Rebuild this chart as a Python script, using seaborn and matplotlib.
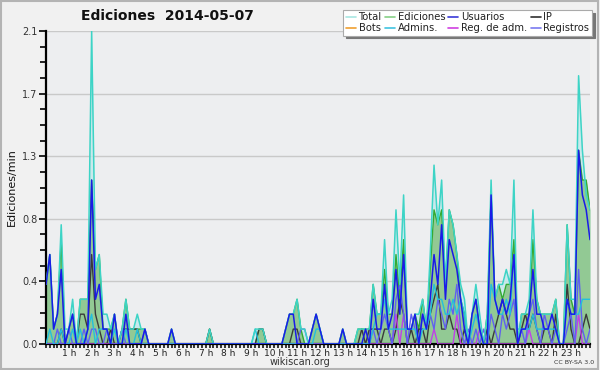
import numpy as np
import pandas as pd
import matplotlib
matplotlib.use("Agg")
import matplotlib.pyplot as plt
import seaborn as sns
from matplotlib.lines import Line2D
from matplotlib.patches import Rectangle

# ==========================================
# DATA (edits per minute, 10-minute bins, one row per hour)
# ==========================================

total = [
    0.4, 0.6, 0.1, 0.2, 0.8, 0.1,
    0.1, 0.3, 0.0, 0.3, 0.3, 0.3,
    2.1, 0.5, 0.6, 0.2, 0.2, 0.1,
    0.2, 0.0, 0.1, 0.3, 0.1, 0.1,
    0.2, 0.1, 0.1, 0.0, 0.0, 0.0,
    0.0, 0.0, 0.0, 0.1, 0.0, 0.0,
    0.0, 0.0, 0.0, 0.0, 0.0, 0.0,
    0.0, 0.1, 0.0, 0.0, 0.0, 0.0,
    0.0, 0.0, 0.0, 0.0, 0.0, 0.0,
    0.0, 0.1, 0.1, 0.1, 0.0, 0.0,
    0.0, 0.0, 0.0, 0.1, 0.2, 0.2,
    0.3, 0.1, 0.1, 0.0, 0.1, 0.2,
    0.1, 0.0, 0.0, 0.0, 0.0, 0.0,
    0.1, 0.0, 0.0, 0.0, 0.1, 0.1,
    0.1, 0.1, 0.4, 0.2, 0.2, 0.7,
    0.2, 0.3, 0.9, 0.4, 1.0, 0.1,
    0.1, 0.2, 0.2, 0.3, 0.1, 0.6,
    1.2, 0.8, 1.1, 0.4, 0.9, 0.8,
    0.6, 0.4, 0.3, 0.0, 0.2, 0.4,
    0.2, 0.0, 0.2, 1.1, 0.3, 0.4,
    0.4, 0.5, 0.4, 1.1, 0.0, 0.2,
    0.2, 0.3, 0.9, 0.3, 0.2, 0.2,
    0.2, 0.2, 0.3, 0.0, 0.0, 0.8,
    0.3, 0.3, 1.8, 1.3, 1.0, 0.9,
]

ediciones = [
    0.4, 0.6, 0.1, 0.2, 0.7, 0.0,
    0.1, 0.2, 0.0, 0.3, 0.3, 0.3,
    1.1, 0.5, 0.6, 0.1, 0.1, 0.1,
    0.2, 0.0, 0.1, 0.3, 0.1, 0.1,
    0.1, 0.1, 0.1, 0.0, 0.0, 0.0,
    0.0, 0.0, 0.0, 0.1, 0.0, 0.0,
    0.0, 0.0, 0.0, 0.0, 0.0, 0.0,
    0.0, 0.1, 0.0, 0.0, 0.0, 0.0,
    0.0, 0.0, 0.0, 0.0, 0.0, 0.0,
    0.0, 0.0, 0.1, 0.1, 0.0, 0.0,
    0.0, 0.0, 0.0, 0.1, 0.2, 0.2,
    0.3, 0.1, 0.0, 0.0, 0.1, 0.2,
    0.1, 0.0, 0.0, 0.0, 0.0, 0.0,
    0.1, 0.0, 0.0, 0.0, 0.1, 0.1,
    0.1, 0.1, 0.4, 0.2, 0.2, 0.5,
    0.2, 0.2, 0.6, 0.3, 0.7, 0.1,
    0.1, 0.2, 0.1, 0.3, 0.1, 0.5,
    0.9, 0.8, 0.9, 0.4, 0.9, 0.8,
    0.6, 0.3, 0.2, 0.0, 0.2, 0.3,
    0.1, 0.0, 0.2, 1.0, 0.3, 0.4,
    0.3, 0.4, 0.4, 0.7, 0.0, 0.2,
    0.2, 0.2, 0.7, 0.3, 0.2, 0.2,
    0.2, 0.2, 0.3, 0.0, 0.0, 0.8,
    0.3, 0.2, 1.3, 1.1, 1.1, 0.9,
]

usuarios = [
    0.4, 0.6, 0.1, 0.2, 0.5, 0.0,
    0.1, 0.2, 0.0, 0.0, 0.0, 0.1,
    1.1, 0.3, 0.4, 0.1, 0.1, 0.0,
    0.2, 0.0, 0.0, 0.2, 0.0, 0.0,
    0.0, 0.0, 0.1, 0.0, 0.0, 0.0,
    0.0, 0.0, 0.0, 0.1, 0.0, 0.0,
    0.0, 0.0, 0.0, 0.0, 0.0, 0.0,
    0.0, 0.0, 0.0, 0.0, 0.0, 0.0,
    0.0, 0.0, 0.0, 0.0, 0.0, 0.0,
    0.0, 0.0, 0.0, 0.0, 0.0, 0.0,
    0.0, 0.0, 0.0, 0.1, 0.2, 0.2,
    0.0, 0.0, 0.0, 0.0, 0.1, 0.2,
    0.1, 0.0, 0.0, 0.0, 0.0, 0.0,
    0.1, 0.0, 0.0, 0.0, 0.0, 0.0,
    0.1, 0.0, 0.3, 0.1, 0.1, 0.4,
    0.1, 0.2, 0.5, 0.2, 0.6, 0.1,
    0.1, 0.2, 0.0, 0.2, 0.1, 0.3,
    0.6, 0.4, 0.8, 0.3, 0.7, 0.6,
    0.5, 0.3, 0.1, 0.0, 0.2, 0.3,
    0.1, 0.0, 0.0, 1.0, 0.3, 0.2,
    0.3, 0.2, 0.3, 0.6, 0.0, 0.1,
    0.1, 0.2, 0.5, 0.2, 0.2, 0.1,
    0.1, 0.2, 0.1, 0.0, 0.0, 0.3,
    0.2, 0.2, 1.3, 1.0, 0.9, 0.7,
]

ip = [
    0.0, 0.0, 0.0, 0.0, 0.1, 0.0,
    0.0, 0.0, 0.0, 0.2, 0.2, 0.1,
    0.6, 0.2, 0.1, 0.0, 0.0, 0.1,
    0.0, 0.0, 0.1, 0.1, 0.1, 0.1,
    0.1, 0.0, 0.0, 0.0, 0.0, 0.0,
    0.0, 0.0, 0.0, 0.0, 0.0, 0.0,
    0.0, 0.0, 0.0, 0.0, 0.0, 0.0,
    0.0, 0.1, 0.0, 0.0, 0.0, 0.0,
    0.0, 0.0, 0.0, 0.0, 0.0, 0.0,
    0.0, 0.0, 0.1, 0.1, 0.0, 0.0,
    0.0, 0.0, 0.0, 0.0, 0.0, 0.1,
    0.1, 0.0, 0.0, 0.0, 0.0, 0.0,
    0.0, 0.0, 0.0, 0.0, 0.0, 0.0,
    0.0, 0.0, 0.0, 0.0, 0.0, 0.1,
    0.0, 0.1, 0.1, 0.1, 0.0, 0.1,
    0.1, 0.0, 0.1, 0.3, 0.2, 0.0,
    0.1, 0.0, 0.1, 0.1, 0.0, 0.2,
    0.3, 0.4, 0.1, 0.1, 0.2, 0.1,
    0.1, 0.0, 0.1, 0.0, 0.0, 0.0,
    0.0, 0.0, 0.1, 0.0, 0.1, 0.2,
    0.3, 0.2, 0.1, 0.1, 0.0, 0.1,
    0.2, 0.1, 0.2, 0.1, 0.0, 0.1,
    0.1, 0.0, 0.2, 0.0, 0.0, 0.4,
    0.1, 0.0, 0.0, 0.1, 0.2, 0.1,
]

admins = [
    0.0, 0.1, 0.0, 0.0, 0.1, 0.0,
    0.0, 0.1, 0.0, 0.1, 0.0, 0.1,
    0.2, 0.0, 0.1, 0.1, 0.1, 0.0,
    0.1, 0.0, 0.0, 0.1, 0.0, 0.0,
    0.1, 0.0, 0.0, 0.0, 0.0, 0.0,
    0.0, 0.0, 0.0, 0.0, 0.0, 0.0,
    0.0, 0.0, 0.0, 0.0, 0.0, 0.0,
    0.0, 0.0, 0.0, 0.0, 0.0, 0.0,
    0.0, 0.0, 0.0, 0.0, 0.0, 0.0,
    0.0, 0.1, 0.0, 0.0, 0.0, 0.0,
    0.0, 0.0, 0.0, 0.0, 0.0, 0.0,
    0.0, 0.0, 0.0, 0.0, 0.0, 0.1,
    0.1, 0.0, 0.0, 0.0, 0.0, 0.0,
    0.0, 0.0, 0.0, 0.0, 0.0, 0.0,
    0.0, 0.0, 0.1, 0.2, 0.2, 0.3,
    0.1, 0.1, 0.1, 0.1, 0.1, 0.1,
    0.1, 0.1, 0.0, 0.1, 0.1, 0.2,
    0.4, 0.3, 0.3, 0.2, 0.2, 0.3,
    0.2, 0.3, 0.2, 0.0, 0.1, 0.2,
    0.1, 0.0, 0.0, 0.4, 0.3, 0.2,
    0.2, 0.3, 0.2, 0.6, 0.1, 0.1,
    0.1, 0.1, 0.2, 0.1, 0.1, 0.1,
    0.1, 0.1, 0.1, 0.0, 0.0, 0.3,
    0.2, 0.2, 0.2, 0.3, 0.3, 0.3,
]

registros = [
    0.0, 0.0, 0.0, 0.1, 0.0, 0.0,
    0.1, 0.0, 0.0, 0.0, 0.1, 0.0,
    0.1, 0.1, 0.0, 0.0, 0.1, 0.0,
    0.0, 0.0, 0.1, 0.0, 0.0, 0.0,
    0.0, 0.0, 0.1, 0.0, 0.0, 0.0,
    0.0, 0.0, 0.0, 0.0, 0.0, 0.0,
    0.0, 0.0, 0.0, 0.0, 0.0, 0.0,
    0.0, 0.0, 0.0, 0.0, 0.0, 0.0,
    0.0, 0.0, 0.0, 0.0, 0.0, 0.0,
    0.0, 0.0, 0.0, 0.0, 0.0, 0.0,
    0.0, 0.0, 0.0, 0.0, 0.0, 0.0,
    0.0, 0.1, 0.1, 0.0, 0.0, 0.0,
    0.0, 0.0, 0.0, 0.0, 0.0, 0.0,
    0.0, 0.0, 0.0, 0.0, 0.0, 0.0,
    0.0, 0.0, 0.1, 0.0, 0.1, 0.2,
    0.1, 0.0, 0.3, 0.4, 0.2, 0.0,
    0.2, 0.1, 0.0, 0.2, 0.1, 0.2,
    0.1, 0.3, 0.2, 0.1, 0.3, 0.2,
    0.4, 0.1, 0.0, 0.1, 0.0, 0.1,
    0.0, 0.1, 0.0, 0.2, 0.1, 0.0,
    0.2, 0.1, 0.2, 0.3, 0.0, 0.1,
    0.0, 0.2, 0.3, 0.1, 0.0, 0.2,
    0.1, 0.0, 0.1, 0.0, 0.0, 0.1,
    0.2, 0.0, 0.5, 0.1, 0.0, 0.1,
]

reg_adm = [
    0.0, 0.0, 0.0, 0.0, 0.0, 0.0,
    0.0, 0.0, 0.0, 0.0, 0.0, 0.0,
    0.0, 0.0, 0.0, 0.0, 0.0, 0.0,
    0.0, 0.0, 0.0, 0.0, 0.0, 0.0,
    0.0, 0.0, 0.0, 0.0, 0.0, 0.0,
    0.0, 0.0, 0.0, 0.0, 0.0, 0.0,
    0.0, 0.0, 0.0, 0.0, 0.0, 0.0,
    0.0, 0.0, 0.0, 0.0, 0.0, 0.0,
    0.0, 0.0, 0.0, 0.0, 0.0, 0.0,
    0.0, 0.0, 0.0, 0.0, 0.0, 0.0,
    0.0, 0.0, 0.0, 0.0, 0.0, 0.0,
    0.0, 0.0, 0.0, 0.0, 0.0, 0.0,
    0.0, 0.0, 0.0, 0.0, 0.0, 0.0,
    0.0, 0.0, 0.0, 0.0, 0.0, 0.0,
    0.0, 0.0, 0.0, 0.0, 0.0, 0.0,
    0.0, 0.0, 0.2, 0.0, 0.2, 0.0,
    0.0, 0.0, 0.0, 0.0, 0.0, 0.0,
    0.1, 0.0, 0.0, 0.0, 0.0, 0.0,
    0.2, 0.0, 0.0, 0.0, 0.0, 0.0,
    0.1, 0.0, 0.0, 0.0, 0.0, 0.0,
    0.0, 0.0, 0.0, 0.0, 0.0, 0.0,
    0.0, 0.1, 0.0, 0.0, 0.0, 0.0,
    0.0, 0.0, 0.0, 0.0, 0.0, 0.0,
    0.0, 0.0, 0.2, 0.0, 0.0, 0.0,
]

hour_labels = [f"{h} h" for h in range(1, 24)]
y_ticks = [0.0, 0.42, 0.84, 1.26, 1.68, 2.1]
y_tick_labels = ["0.0", "0.4", "0.8", "1.3", "1.7", "2.1"]

legend_names = ["Total", "Bots", "Ediciones", "Admins.",
                "Usuarios", "Reg. de adm.", "IP", "Registros"]
legend_colors = ["#a8e6e2", "#f0a030", "#86d086", "#40c4e0",
                 "#3a3ad8", "#d040e0", "#303030", "#7a7af0"]

# ==========================================
# BUILD DATAFRAME
# ==========================================

df = pd.DataFrame({
    "bin": np.arange(len(total)),
    "Total": total,
    "Ediciones": ediciones,
    "Usuarios": usuarios,
    "IP": ip,
    "Admins.": admins,
    "Registros": registros,
    "Reg. de adm.": reg_adm,
})

# ==========================================
# PLOT
# ==========================================

sns.set_style("white")
plt.rcParams["font.family"] = ["DejaVu Sans"]

fig = plt.figure(figsize=(6, 3.7), dpi=100)
fig.patch.set_facecolor("#f1f1f1")
fig.add_artist(Rectangle((0.002, 0.003), 0.995, 0.994, transform=fig.transFigure,
                         fill=False, edgecolor="#b4b4b4", linewidth=1.5))

ax = fig.add_axes([46 / 600, 26 / 370, 544 / 600, 313 / 370])
ax.set_facecolor("#edeef0")

# grid lines
for yv in y_ticks[1:]:
    ax.axhline(yv, color="#c9c9c9", linewidth=1.0, zorder=0)

# filled areas
ax.fill_between(df["bin"], df["Total"], color="#c3e9ec", alpha=0.85, linewidth=0, zorder=1)
ax.fill_between(df["bin"], df["Ediciones"], color="#8fc88f", alpha=0.95, linewidth=0, zorder=2)

line_styles = [
    ("Ediciones", "#33aa33", 1.0),
    ("IP", "#3a3a3a", 1.0),
    ("Reg. de adm.", "#c040e8", 1.0),
    ("Registros", "#6060f0", 1.0),
    ("Admins.", "#22c0dc", 1.0),
    ("Total", "#3dd4c6", 1.1),
    ("Usuarios", "#1a1ae8", 1.1),
]
for i, (col, color, lw) in enumerate(line_styles):
    sns.lineplot(data=df, x="bin", y=col, ax=ax, color=color,
                 linewidth=lw, zorder=3 + i, legend=False)

ax.set_xlim(0, len(total) - 1)
ax.set_ylim(0, 2.1)

# axes styling
for side in ["top", "right"]:
    ax.spines[side].set_visible(False)
for side in ["left", "bottom"]:
    ax.spines[side].set_color("black")
    ax.spines[side].set_linewidth(1.6)

ax.set_yticks(y_ticks)
ax.set_yticklabels(y_tick_labels)
ax.set_yticks(np.arange(0, 2.1001, 0.105), minor=True)
ax.set_xticks(np.arange(6, len(total), 6))
ax.set_xticklabels(hour_labels)
ax.set_xticks(np.arange(0, len(total)), minor=True)

ax.tick_params(axis="y", which="major", length=5, width=1.2, color="black",
               labelsize=7, labelcolor="#333333", pad=1, left=True)
ax.tick_params(axis="y", which="minor", length=4, width=1.2, color="black", left=True)
ax.tick_params(axis="x", which="major", length=3, width=1.1, color="black",
               labelsize=6.5, labelcolor="#222222", pad=0.5, bottom=True)
ax.tick_params(axis="x", which="minor", length=3, width=1.1, color="black", bottom=True)

ax.set_xlabel("")
ax.set_ylabel("")
fig.text(12 / 600, 1 - 187 / 370, "Ediciones/min", rotation=90, fontsize=8,
         ha="center", va="center", color="#111111")

# title
fig.text(167 / 600, 1 - 16 / 370, "Ediciones  2014-05-07", fontsize=10,
         fontweight="bold", ha="center", va="center", color="#111111")

# legend
handles = [Line2D([0], [0], color=c, linewidth=1.2) for c in legend_colors]
leg = fig.legend(handles, legend_names, ncol=4, loc="upper right",
                 bbox_to_anchor=(592 / 600, 1 - 10 / 370), fontsize=7.2,
                 frameon=True, fancybox=False, shadow={"color": "#777777", "alpha": 1.0},
                 handlelength=1.0, handletextpad=0.3, columnspacing=0.3,
                 labelspacing=0.05, borderpad=0.25, borderaxespad=0)
leg.get_frame().set_edgecolor("#aaaaaa")
leg.get_frame().set_linewidth(0.8)
for t in leg.get_texts():
    t.set_color("#222222")

# footer
fig.text(300 / 600, 1 - 362 / 370, "wikiscan.org", fontsize=7,
         ha="center", va="center", color="#333333")
fig.text(574 / 600, 1 - 362 / 370, "CC BY-SA 3.0", fontsize=4.5,
         ha="center", va="center", color="#333333")

fig.savefig("out.png", dpi=100, facecolor=fig.get_facecolor())
